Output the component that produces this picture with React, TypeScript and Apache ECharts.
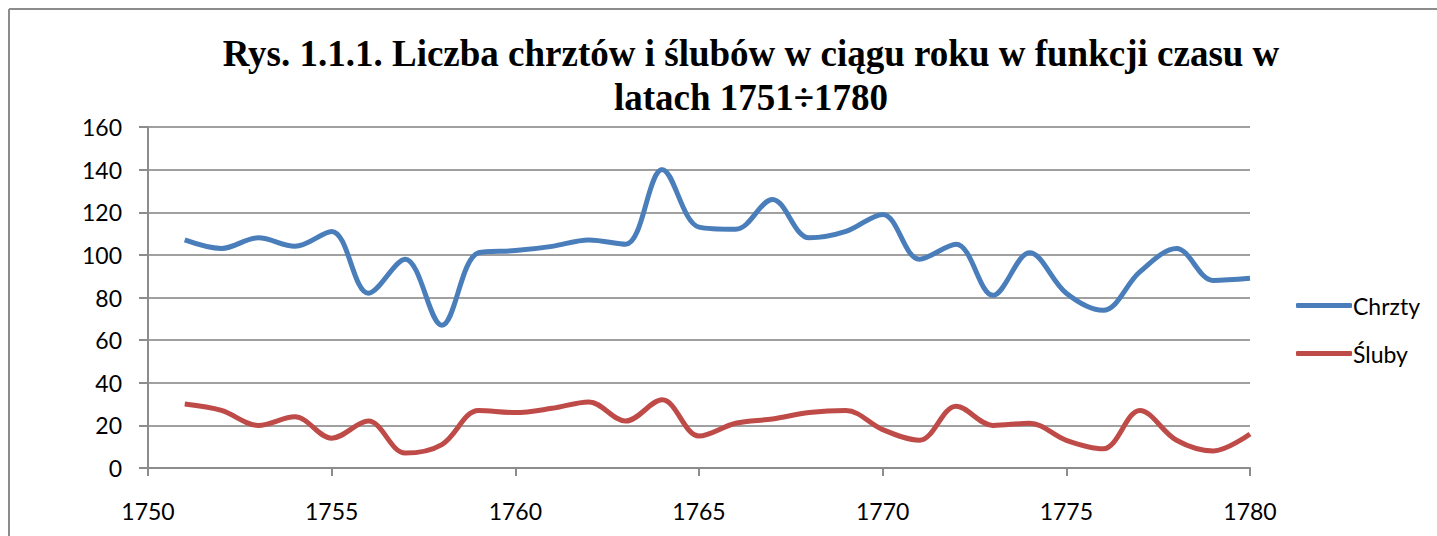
import React, { useEffect, useRef } from "react";
import * as echarts from "echarts";

const years = [
  1751, 1752, 1753, 1754, 1755, 1756, 1757, 1758, 1759, 1760,
  1761, 1762, 1763, 1764, 1765, 1766, 1767, 1768, 1769, 1770,
  1771, 1772, 1773, 1774, 1775, 1776, 1777, 1778, 1779, 1780,
];
const chrzty = [
  107, 103, 108, 104, 111, 82, 98, 67, 101, 102,
  104, 107, 105, 140, 113, 112, 126, 108, 111, 119,
  98, 105, 81, 101, 82, 74, 92, 103, 88, 89,
];
const sluby = [
  30, 27, 20, 24, 14, 22, 7, 11, 27, 26,
  28, 31, 22, 32, 15, 21, 23, 26, 27, 18,
  13, 29, 20, 21, 13, 9, 27, 13, 8, 16,
];
const seriesNames = ["Chrzty", "Śluby"];
const titleText = "Rys. 1.1.1. Liczba chrztów i ślubów w ciągu roku w funkcji czasu w\nlatach 1751÷1780";

export default function App() {
  const ref = useRef<HTMLDivElement>(null);
  useEffect(() => {
    document.body.style.margin = "0";
    const chart = echarts.init(ref.current!, undefined, { renderer: "svg" });
    const labelFont = { fontFamily: "Lato", fontSize: 23, color: "#000" };
    chart.setOption({
      animation: false,
      backgroundColor: "#fff",
      title: {
        text: titleText,
        left: 746,
        top: 26,
        textAlign: "center",
        textStyle: {
          fontFamily: "Liberation Serif",
          fontWeight: "bold",
          fontSize: 37,
          lineHeight: 44,
          color: "#000",
        },
      },
      legend: {
        orient: "vertical",
        left: 1291,
        top: 289,
        itemWidth: 56,
        itemHeight: 5,
        itemGap: 25,
        icon: "roundRect",
        textStyle: { ...labelFont, padding: [0, 0, 0, -4] },
        data: seriesNames,
      },
      grid: { left: 148, right: 187, top: 127, bottom: 68 },
      xAxis: {
        type: "value",
        min: 1750,
        max: 1780,
        interval: 5,
        axisLine: { lineStyle: { color: "#8c8c8c", width: 2 } },
        axisTick: { show: true, length: 8, lineStyle: { color: "#8c8c8c", width: 2 } },
        axisLabel: { ...labelFont, margin: 31, formatter: (v: number) => String(v) },
        splitLine: { show: false },
      },
      yAxis: {
        type: "value",
        min: 0,
        max: 160,
        interval: 20,
        axisLine: { show: true, lineStyle: { color: "#8c8c8c", width: 2 } },
        axisTick: { show: true, length: 9, lineStyle: { color: "#8c8c8c", width: 2 } },
        axisLabel: { ...labelFont, margin: 26 },
        splitLine: { show: true, lineStyle: { color: "#a0a0a0", width: 2 } },
      },
      graphic: [
        { type: "line", shape: { x1: 9, y1: 9, x2: 1437, y2: 9 }, style: { stroke: "#8c8c8c", lineWidth: 2 } },
        { type: "line", shape: { x1: 9, y1: 9, x2: 9, y2: 536 }, style: { stroke: "#8c8c8c", lineWidth: 2 } },
      ],
      series: [
        {
          name: seriesNames[0],
          type: "line",
          smooth: 0.35,
          symbol: "none",
          data: years.map((y, i) => [y, chrzty[i]]),
          lineStyle: { color: "#4a7ebb", width: 5 },
          itemStyle: { color: "#4a7ebb" },
        },
        {
          name: seriesNames[1],
          type: "line",
          smooth: 0.35,
          symbol: "none",
          data: years.map((y, i) => [y, sluby[i]]),
          lineStyle: { color: "#be4b48", width: 5 },
          itemStyle: { color: "#be4b48" },
        },
      ],
    });
    return () => chart.dispose();
  }, []);
  return <div ref={ref} style={{ width: 1437, height: 536 }} />;
}
